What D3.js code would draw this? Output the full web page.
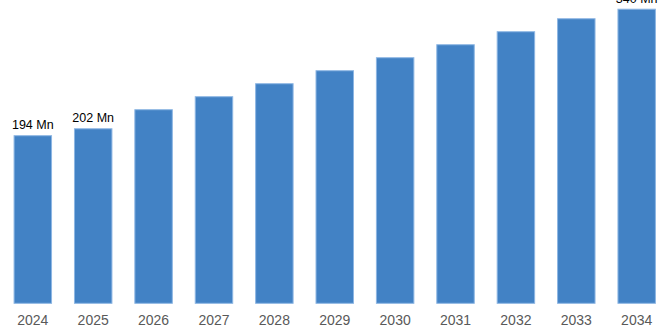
<!DOCTYPE html>
<html><head><meta charset="utf-8">
<script src="https://cdn.jsdelivr.net/npm/d3@7/dist/d3.min.js"></script>
<style>html,body{margin:0;padding:0;background:#fff;}svg{display:block;}</style>
</head><body>
<svg id="c" width="668" height="334"></svg>
<script>
const years = ["2024","2025","2026","2027","2028","2029","2030","2031","2032","2033","2034"];
const values = [194, 202, 224, 239, 254, 269, 284, 299, 314, 329, 340];
const labels = ["194 Mn", "202 Mn", "", "", "", "", "", "", "", "", "340 Mn"];

const svg = d3.select("#c");
const W = 668, H = 334;
const x = d3.scaleBand().domain(years).range([1.5, 668]).paddingInner(0.363).paddingOuter(0.2);
const y = d3.scaleLinear().domain([0, 340]).range([303.3, 8.7]);

svg.selectAll("rect.bar").data(values).join("rect")
  .attr("class","bar")
  .attr("x", (d,i) => x(years[i]) + 0.5)
  .attr("y", d => y(d) + 0.5)
  .attr("width", x.bandwidth() - 1)
  .attr("height", d => y(0) - y(d) - 0.5)
  .attr("fill", "#4282c5")
  .attr("stroke", "#8db6e3")
  .attr("stroke-width", 1);

svg.selectAll("text.lbl").data(values).join("text")
  .attr("class","lbl")
  .attr("x", (d,i) => x(years[i]) + x.bandwidth()/2)
  .attr("y", d => y(d) - 6)
  .attr("text-anchor","middle")
  .attr("font-family","'Liberation Sans Narrow','Liberation Sans',Arial,sans-serif")
  .attr("font-size", 12.5)
  .attr("fill","#000")
  .text((d,i) => labels[i]);

const ax = svg.append("g").attr("transform", `translate(0,${H})`)
  .call(d3.axisBottom(x).tickSize(0).tickPadding(0));
ax.select(".domain").remove();
ax.selectAll("text")
  .attr("y", -9)
  .attr("dy", 0)
  .attr("font-family","'Liberation Sans Narrow','Liberation Sans',Arial,sans-serif")
  .attr("font-size", 14)
  .attr("fill","#595959");
</script>
</body></html>
